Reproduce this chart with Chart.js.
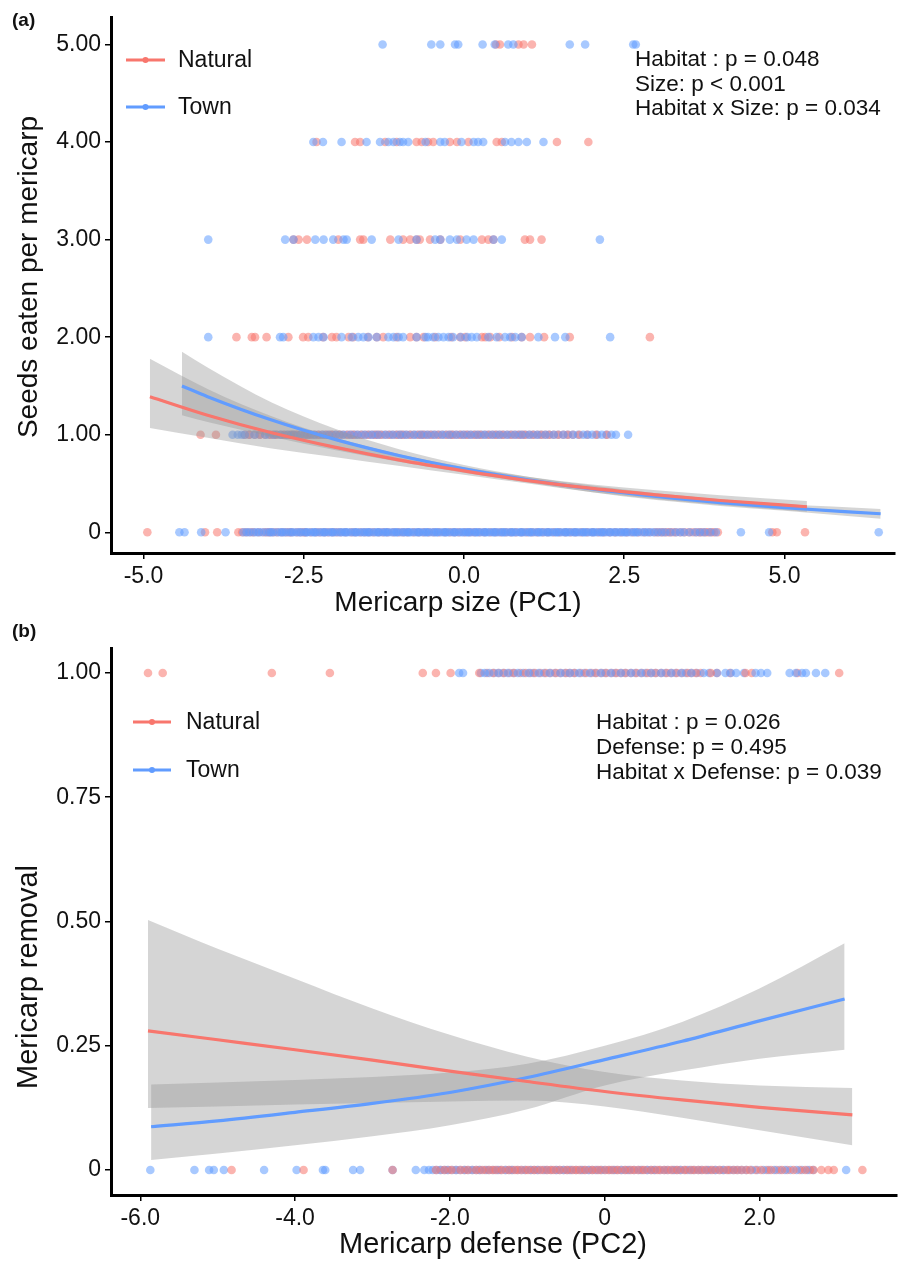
<!DOCTYPE html>
<html><head><meta charset="utf-8">
<script src="https://cdn.jsdelivr.net/npm/chart.js@4/dist/chart.umd.min.js"></script>
<style>
html,body{margin:0;padding:0;background:#fff;}
#wrap{position:relative;width:907px;height:1262px;overflow:hidden;}
.c{position:absolute;left:0;width:907px;}
</style></head><body>
<div id="wrap">
<div class="c" style="top:0;height:620px"><canvas id="ca" width="907" height="620"></canvas></div>
<div class="c" style="top:620px;height:642px"><canvas id="cb" width="907" height="642"></canvas></div>
</div>
<script>
// ---------- Panel (a): tick values and labels ----------
const sizeTicks = [-5, -2.5, 0, 2.5, 5];
const sizeTickLabels = ['-5.0', '-2.5', '0.0', '2.5', '5.0'];
const seedsTicks = [0, 1, 2, 3, 4, 5];
const seedsTickLabels = ['0', '1.00', '2.00', '3.00', '4.00', '5.00'];

// Panel (a): observed mericarp sizes (PC1) at each count of seeds eaten
const natSeeds0 = [-4.94, -4.04, -3.85, -3.52, -3.40, -3.28, -3.12, -3.03, -2.91, -2.78, -2.69, -2.55, -2.47, -2.31, -2.18, -2.05, -1.93, -1.76, -1.62, -1.48, -1.33, -1.19, -1.02, -0.88, -0.71, -0.55, -0.39, -0.22, -0.08, 0.09, 0.24, 0.41, 0.57, 0.73, 0.90, 1.06, 1.23, 1.40, 1.58, 1.74, 1.92, 2.10, 2.27, 2.45, 2.63, 2.81, 2.98, 3.08, 3.17, 3.26, 3.38, 3.51, 3.63, 3.72, 3.81, 3.90, 4.88, 5.32];
const natSeeds0b = [-3.46, -3.33, -3.20, -3.07, -2.97, -2.84, -2.73, -2.61, -2.50, -2.39, -2.25, -2.12, -1.99, -1.85, -1.70, -1.55, -1.41, -1.26, -1.10, -0.95, -0.79, -0.63, -0.47, -0.30, -0.15, 0.01, 0.16, 0.32, 0.49, 0.65, 0.81, 0.98, 1.14, 1.31, 1.49, 1.66, 1.83, 2.01, 2.18, 2.36, 2.54, 2.72, 2.89, 3.03, 3.12, 3.21, 3.31, 3.44, 3.57, 3.68, 3.77, 3.86, 3.96, 4.81];
const townSeeds0 = [-4.44, -4.36, -4.10, -3.72, -3.44, -3.35, -3.24, -3.15, -3.04, -2.98, -2.87, -2.81, -2.72, -2.66, -2.57, -2.49, -2.44, -2.35, -2.30, -2.21, -2.16, -2.07, -2.02, -1.93, -1.86, -1.81, -1.72, -1.67, -1.58, -1.51, -1.46, -1.37, -1.32, -1.23, -1.18, -1.09, -1.04, -0.95, -0.88, -0.83, -0.74, -0.69, -0.60, -0.55, -0.46, -0.41, -0.32, -0.27, -0.18, -0.13, -0.04, 0.03, 0.08, 0.17, 0.22, 0.31, 0.36, 0.45, 0.50, 0.59, 0.64, 0.73, 0.78, 0.87, 0.92, 1.01, 1.06, 1.15, 1.20, 1.29, 1.34, 1.43, 1.48, 1.57, 1.62, 1.71, 1.76, 1.85, 1.90, 1.99, 2.04, 2.13, 2.18, 2.27, 2.34, 2.41, 2.49, 2.55, 2.65, 2.71, 2.82, 2.91, 3.02, 3.14, 3.30, 3.43, 3.61, 3.75, 3.93, 4.32, 4.76, 6.47];
const townSeeds0b = [-3.39, -3.29, -3.20, -3.09, -3.01, -2.92, -2.84, -2.77, -2.69, -2.61, -2.54, -2.46, -2.39, -2.33, -2.25, -2.18, -2.11, -2.05, -1.97, -1.90, -1.84, -1.76, -1.69, -1.62, -1.55, -1.49, -1.41, -1.34, -1.27, -1.21, -1.13, -1.06, -0.99, -0.92, -0.86, -0.78, -0.71, -0.64, -0.58, -0.50, -0.43, -0.36, -0.29, -0.23, -0.15, -0.08, -0.01, 0.06, 0.12, 0.19, 0.26, 0.33, 0.40, 0.47, 0.54, 0.61, 0.68, 0.75, 0.82, 0.89, 0.96, 1.03, 1.10, 1.17, 1.24, 1.31, 1.38, 1.45, 1.52, 1.59, 1.66, 1.73, 1.80, 1.87, 1.94, 2.01, 2.08, 2.15, 2.22, 2.29, 2.37, 2.45, 2.52, 2.60, 2.68, 2.77, 2.86, 2.96, 3.08, 3.22, 3.37, 3.52, 3.68, 3.84];
const natSeeds1 = [-4.11, -3.87, -3.35, -3.18, -3.02, -2.93, -2.81, -2.70, -2.62, -2.49, -2.40, -2.27, -2.15, -2.06, -1.94, -1.81, -1.72, -1.60, -1.49, -1.38, -1.30, -1.17, -1.05, -0.96, -0.84, -0.71, -0.63, -0.52, -0.40, -0.27, -0.18, -0.06, 0.05, 0.17, 0.26, 0.39, 0.50, 0.61, 0.74, 0.86, 0.95, 1.08, 1.21, 1.33, 1.47, 1.62, 1.80, 2.06, 2.23];
const natSeeds1b = [-3.42, -3.26, -3.10, -2.97, -2.86, -2.75, -2.66, -2.55, -2.44, -2.33, -2.21, -2.10, -2.00, -1.88, -1.76, -1.66, -1.54, -1.43, -1.34, -1.23, -1.11, -1.00, -0.90, -0.78, -0.67, -0.57, -0.46, -0.34, -0.22, -0.12, 0.00, 0.11, 0.22, 0.33, 0.45, 0.56, 0.68, 0.80, 0.91, 1.02, 1.15, 1.27, 1.40, 1.55, 1.70, 1.92];
const townSeeds1 = [-3.61, -3.53, -3.42, -3.27, -3.10, -2.97, -2.86, -2.75, -2.66, -2.55, -2.44, -2.33, -2.21, -2.11, -2.00, -1.89, -1.77, -1.66, -1.55, -1.44, -1.34, -1.22, -1.11, -1.00, -0.90, -0.78, -0.67, -0.57, -0.46, -0.34, -0.23, -0.12, -0.01, 0.10, 0.21, 0.32, 0.44, 0.55, 0.67, 0.79, 0.90, 1.02, 1.14, 1.27, 1.40, 1.55, 1.70, 1.86, 2.00, 2.15, 2.30, 2.56];
const townSeeds1b = [-3.47, -3.35, -3.19, -3.04, -2.92, -2.80, -2.70, -2.60, -2.49, -2.38, -2.27, -2.16, -2.05, -1.94, -1.83, -1.71, -1.60, -1.49, -1.39, -1.28, -1.16, -1.05, -0.95, -0.84, -0.73, -0.62, -0.51, -0.40, -0.29, -0.18, -0.06, 0.05, 0.16, 0.27, 0.38, 0.50, 0.61, 0.73, 0.85, 0.96, 1.08, 1.20, 1.33, 1.47, 1.62, 1.78, 1.93, 2.08, 2.22, 2.37];
const natSeeds2 = [-3.55, -3.31, -3.26, -3.08, -2.74, -2.51, -2.43, -2.20, -2.06, -1.99, -1.80, -1.73, -1.50, -1.36, -1.26, -1.05, -0.84, -0.74, -0.63, -0.45, -0.20, -0.06, 0.02, 0.28, 0.33, 0.41, 0.55, 0.75, 0.90, 1.03, 1.25, 1.65, 2.90];
const townSeeds2 = [-3.99, -2.87, -2.82, -2.35, -2.27, -2.19, -1.91, -1.75, -1.65, -1.57, -1.49, -1.36, -1.18, -1.10, -1.02, -0.95, -0.74, -0.60, -0.56, -0.48, -0.40, -0.32, -0.24, -0.17, -0.05, 0.05, 0.12, 0.20, 0.38, 0.51, 0.64, 0.72, 0.80, 0.90, 1.16, 1.42, 1.58, 2.28];
const natSeeds3 = [-2.66, -2.58, -2.45, -1.96, -1.62, -1.57, -1.15, -0.95, -0.84, -0.74, -0.69, -0.53, -0.37, -0.06, 0.28, 0.38, 0.46, 0.95, 1.03, 1.21];
const townSeeds3 = [-3.99, -2.79, -2.66, -2.32, -2.19, -2.04, -1.88, -1.83, -1.44, -1.02, -0.74, -0.45, -0.37, -0.22, -0.11, 0.04, 0.15, 0.46, 0.59, 2.12];
const natSeeds4 = [-2.30, -1.70, -1.62, -1.23, -1.05, -0.74, -0.66, -0.56, -0.48, -0.22, -0.11, 0.07, 0.51, 0.59, 1.45, 1.94];
const townSeeds4 = [-2.35, -2.20, -1.91, -1.52, -1.31, -1.18, -1.10, -1.00, -0.95, -0.87, -0.60, -0.37, -0.30, -0.04, 0.15, 0.22, 0.30, 0.64, 0.74, 0.85, 0.98, 1.24];
const natSeeds5 = [0.50, 0.56, 0.85, 0.93, 1.06];
const townSeeds5 = [-1.27, -0.51, -0.37, -0.14, -0.09, 0.29, 0.48, 0.69, 0.77, 1.65, 1.89, 2.64, 2.68];

// Panel (a): fitted curves and confidence bands
const fitSizeNatX = [-4.9, -4, -3, -2, -1, 0, 1, 2, 3, 4, 5.35];
const fitSizeNat = [1.39, 1.20, 1.02, 0.87, 0.74, 0.63, 0.53, 0.45, 0.384, 0.326, 0.262];
const fitSizeNatLo = [1.07, 0.97, 0.86, 0.77, 0.68, 0.59, 0.50, 0.41, 0.34, 0.28, 0.21];
const fitSizeNatHi = [1.78, 1.47, 1.19, 0.97, 0.80, 0.67, 0.57, 0.49, 0.43, 0.38, 0.32];
const fitSizeTownX = [-4.4, -4, -3, -2, -1, 0, 1, 2, 3, 4, 5, 6.5];
const fitSizeTown = [1.50, 1.39, 1.15, 0.95, 0.785, 0.65, 0.538, 0.445, 0.368, 0.305, 0.252, 0.19];
const fitSizeTownLo = [1.20, 1.13, 0.98, 0.84, 0.72, 0.61, 0.51, 0.41, 0.33, 0.27, 0.22, 0.14];
const fitSizeTownHi = [1.85, 1.69, 1.33, 1.06, 0.85, 0.69, 0.57, 0.48, 0.40, 0.34, 0.29, 0.24];

// ---------- Panel (b) ----------
const defTicks = [-6, -4, -2, 0, 2];
const defTickLabels = ['-6.0', '-4.0', '-2.0', '0', '2.0'];
const remTicks = [0, 0.25, 0.5, 0.75, 1];
const remTickLabels = ['0', '0.25', '0.50', '0.75', '1.00'];

const natRem0 = [-4.82, -3.89, -2.74, -2.18, -2.07, -1.98, -1.86, -1.77, -1.66, -1.58, -1.49, -1.41, -1.33, -1.24, -1.16, -1.08, -0.99, -0.91, -0.83, -0.74, -0.66, -0.58, -0.49, -0.41, -0.33, -0.25, -0.16, -0.08, 0.01, 0.09, 0.17, 0.26, 0.34, 0.43, 0.51, 0.60, 0.68, 0.77, 0.86, 0.94, 1.03, 1.12, 1.21, 1.30, 1.39, 1.48, 1.58, 1.67, 1.77, 1.88, 2.02, 2.15, 2.29, 2.44, 2.59, 2.70, 2.89, 2.96, 3.33];
const natRem0b = [-2.12, -2.02, -1.92, -1.81, -1.71, -1.62, -1.53, -1.45, -1.37, -1.28, -1.20, -1.12, -1.03, -0.95, -0.87, -0.78, -0.70, -0.62, -0.53, -0.45, -0.37, -0.29, -0.20, -0.12, -0.04, 0.05, 0.13, 0.21, 0.30, 0.38, 0.47, 0.55, 0.64, 0.72, 0.81, 0.90, 0.98, 1.07, 1.16, 1.25, 1.34, 1.43, 1.53, 1.62, 1.72, 1.83, 1.95, 2.09, 2.22, 2.36, 2.52, 2.65, 2.80];
const townRem0 = [-5.87, -5.30, -5.11, -5.05, -4.92, -4.40, -3.98, -3.64, -3.61, -3.25, -3.16, -2.74, -2.44, -2.33, -2.22, -2.12, -2.03, -1.92, -1.81, -1.71, -1.61, -1.50, -1.39, -1.28, -1.19, -1.07, -0.96, -0.86, -0.75, -0.63, -0.53, -0.43, -0.31, -0.21, -0.10, 0.00, 0.11, 0.22, 0.32, 0.44, 0.55, 0.65, 0.77, 0.88, 0.98, 1.10, 1.21, 1.32, 1.43, 1.54, 1.66, 1.77, 1.90, 2.05, 2.19, 2.33, 2.48, 2.62, 3.12];
const townRem0b = [-2.27, -2.17, -2.07, -1.97, -1.87, -1.76, -1.66, -1.55, -1.44, -1.34, -1.23, -1.13, -1.02, -0.91, -0.80, -0.69, -0.58, -0.48, -0.37, -0.26, -0.16, -0.05, 0.06, 0.16, 0.27, 0.38, 0.49, 0.60, 0.71, 0.82, 0.93, 1.04, 1.15, 1.26, 1.37, 1.49, 1.60, 1.71, 1.83, 1.97, 2.12, 2.26, 2.40, 2.55, 2.69];
const natRem1 = [-5.90, -5.71, -4.30, -3.55, -2.35, -2.18, -1.99, -1.62, -1.44, -1.30, -1.17, -1.02, -0.90, -0.76, -0.63, -0.50, -0.39, -0.24, -0.11, 0.02, 0.15, 0.27, 0.41, 0.55, 0.66, 0.80, 0.93, 1.07, 1.18, 1.37, 1.82, 2.49, 3.03];
const natRem1b = [-1.52, -1.37, -1.23, -1.09, -0.96, -0.83, -0.70, -0.57, -0.45, -0.31, -0.17, -0.04, 0.09, 0.21, 0.34, 0.48, 0.60, 0.73, 0.86, 1.00, 1.12, 1.24, 1.45, 1.62, 1.90];
const townRem1 = [-1.88, -1.83, -1.55, -1.49, -1.37, -1.25, -1.12, -0.98, -0.85, -0.71, -0.57, -0.45, -0.33, -0.19, -0.05, 0.08, 0.21, 0.34, 0.47, 0.60, 0.73, 0.86, 0.99, 1.12, 1.28, 1.56, 1.70, 1.95, 2.39, 2.47, 2.55, 2.60, 2.73, 2.85];
const townRem1b = [-1.60, -1.43, -1.31, -1.18, -1.05, -0.92, -0.78, -0.64, -0.51, -0.39, -0.26, -0.12, 0.01, 0.14, 0.27, 0.40, 0.53, 0.66, 0.79, 0.92, 1.05, 1.19, 1.35, 1.45, 1.63, 1.80, 2.02, 2.10];

const fitDefNatX = [-5.9, -5, -4, -3, -2, -1, 0, 1, 2, 3.2];
const fitDefNat = [0.280, 0.262, 0.242, 0.221, 0.199, 0.178, 0.158, 0.141, 0.126, 0.111];
const fitDefNatLo = [0.125, 0.128, 0.132, 0.135, 0.138, 0.140, 0.128, 0.105, 0.080, 0.050];
const fitDefNatHi = [0.503, 0.445, 0.385, 0.325, 0.272, 0.228, 0.197, 0.180, 0.170, 0.165];
const fitDefTownX = [-5.86, -5, -4, -3, -2, -1, 0, 1, 2, 3.1];
const fitDefTown = [0.087, 0.099, 0.116, 0.134, 0.156, 0.186, 0.222, 0.259, 0.300, 0.344];
const fitDefTownLo = [0.020, 0.033, 0.050, 0.068, 0.090, 0.122, 0.170, 0.200, 0.224, 0.242];
const fitDefTownHi = [0.172, 0.176, 0.181, 0.187, 0.196, 0.214, 0.250, 0.298, 0.365, 0.456];

// ---------- styling ----------
const FONT = '"Liberation Sans", Arial, Helvetica, sans-serif';
const RED = '#F8766D', BLUE = '#619CFF';
const RED_PT = 'rgba(248,118,109,0.55)', BLUE_PT = 'rgba(97,156,255,0.55)';
const BAND = 'rgba(150,150,150,0.4)';

const pts = (xs, y) => xs.map(x => ({x: x, y: y}));
const xy = (xs, ys) => xs.map((x, i) => ({x: x, y: ys[i]}));

function lineDs(xs, ys, color) {
  return {type: 'line', data: xy(xs, ys), borderColor: color, borderWidth: 3.2, pointRadius: 0,
          tension: 0.4, cubicInterpolationMode: 'monotone', fill: false};
}
function bandDs(xs, ys, fill) {
  return {type: 'line', data: xy(xs, ys), borderWidth: 0, borderColor: 'rgba(0,0,0,0)', pointRadius: 0,
          tension: 0.4, cubicInterpolationMode: 'monotone', fill: fill, backgroundColor: BAND};
}
function ptDs(xs, y, color) {
  return {type: 'scatter', data: pts(xs, y), backgroundColor: color, borderWidth: 0, pointRadius: 4.3, pointHoverRadius: 4.3};
}

function textPlugin(s) {
  return {
    id: 'txt',
    afterDraw(chart) {
      const ctx = chart.ctx;
      ctx.save();
      ctx.fillStyle = '#111';
      ctx.font = 'bold 19px ' + FONT;
      ctx.textAlign = 'left'; ctx.textBaseline = 'middle';
      ctx.fillText(s.panel, 12, s.panelY);
      ctx.font = s.titleSize + 'px ' + FONT;
      ctx.textAlign = 'center'; ctx.textBaseline = 'middle';
      ctx.fillText(s.xTitle, s.xTitleX, s.xTitleY);
      ctx.save();
      ctx.translate(s.yTitleX, s.yTitleY);
      ctx.rotate(-Math.PI / 2);
      ctx.fillText(s.yTitle, 0, 0);
      ctx.restore();
      ctx.font = '23px ' + FONT;
      ctx.textAlign = 'left';
      s.legend.forEach(e => {
        ctx.strokeStyle = e.color; ctx.lineWidth = 3;
        ctx.beginPath(); ctx.moveTo(s.legX0, e.y); ctx.lineTo(s.legX1, e.y); ctx.stroke();
        ctx.fillStyle = e.color;
        ctx.beginPath(); ctx.arc((s.legX0 + s.legX1) / 2, e.y, 3, 0, Math.PI * 2); ctx.fill();
        ctx.fillStyle = '#111';
        ctx.fillText(e.label, s.legTextX, e.y + 1);
      });
      ctx.font = '22.5px ' + FONT;
      s.stats.forEach((t, i) => ctx.fillText(t, s.statX, s.statY + i * s.statDy));
      ctx.restore();
    }
  };
}

function axes(xMin, xMax, xTicks, xLabels, yMin, yMax, yTicks, yLabels, xHeight) {
  const common = {
    border: {display: true, color: '#000', width: 3},
    grid: {display: true, drawOnChartArea: false, drawTicks: true, tickLength: 6, color: '#000', lineWidth: 1.5},
  };
  return {
    x: Object.assign({}, common, {
      type: 'linear', min: xMin, max: xMax,
      afterBuildTicks: sc => { sc.ticks = xTicks.map(v => ({value: v})); },
      afterFit: sc => { sc.height = xHeight; },
      ticks: {font: {family: FONT, size: 23}, color: '#111', padding: 4, maxRotation: 0, autoSkip: false,
              callback: (v) => { const i = xTicks.indexOf(v); return i >= 0 ? xLabels[i] : ''; }}
    }),
    y: Object.assign({}, common, {
      type: 'linear', min: yMin, max: yMax,
      afterBuildTicks: sc => { sc.ticks = yTicks.map(v => ({value: v})); },
      afterFit: sc => { sc.width = 111; },
      ticks: {font: {family: FONT, size: 23}, color: '#111', padding: 4, autoSkip: false,
              callback: (v) => { const i = yTicks.indexOf(v); return i >= 0 ? yLabels[i] : ''; }}
    })
  };
}

const baseOpts = {responsive: false, animation: false, events: [],
  plugins: {legend: {display: false}, tooltip: {enabled: false}}};

// ---------- Chart (a) ----------
new Chart(document.getElementById('ca'), {
  type: 'scatter',
  data: {datasets: [
    lineDs(fitSizeNatX, fitSizeNat, RED),
    lineDs(fitSizeTownX, fitSizeTown, BLUE),
    bandDs(fitSizeNatX, fitSizeNatHi, '+1'),
    bandDs(fitSizeNatX, fitSizeNatLo, false),
    bandDs(fitSizeTownX, fitSizeTownHi, '+1'),
    bandDs(fitSizeTownX, fitSizeTownLo, false),
    ptDs(townSeeds0, 0, BLUE_PT), ptDs(townSeeds0b, 0, BLUE_PT), ptDs(natSeeds0, 0, RED_PT), ptDs(natSeeds0b, 0, RED_PT),
    ptDs(townSeeds1, 1, BLUE_PT), ptDs(natSeeds1, 1, RED_PT), ptDs(townSeeds1b, 1, BLUE_PT), ptDs(natSeeds1b, 1, RED_PT),
    ptDs(townSeeds2, 2, BLUE_PT), ptDs(natSeeds2, 2, RED_PT),
    ptDs(townSeeds3, 3, BLUE_PT), ptDs(natSeeds3, 3, RED_PT),
    ptDs(townSeeds4, 4, BLUE_PT), ptDs(natSeeds4, 4, RED_PT),
    ptDs(townSeeds5, 5, BLUE_PT), ptDs(natSeeds5, 5, RED_PT)
  ]},
  options: Object.assign({}, baseOpts, {
    layout: {padding: {left: 0, right: 12, top: 10, bottom: 0}},
    scales: axes(-5.507, 6.724, sizeTicks, sizeTickLabels, -0.212, 5.273, seedsTicks, seedsTickLabels, 67)
  }),
  plugins: [textPlugin({
    panel: '(a)', panelY: 21,
    titleSize: 28,
    xTitle: 'Mericarp size (PC1)', xTitleX: 458, xTitleY: 603,
    yTitle: 'Seeds eaten per mericarp', yTitleX: 29, yTitleY: 277,
    legX0: 126, legX1: 165, legTextX: 178,
    legend: [{label: 'Natural', color: RED, y: 60}, {label: 'Town', color: BLUE, y: 107}],
    statX: 635, statY: 60, statDy: 24.5,
    stats: ['Habitat : p = 0.048', 'Size: p < 0.001', 'Habitat x Size: p = 0.034']
  })]
});

// ---------- Chart (b) ----------
new Chart(document.getElementById('cb'), {
  type: 'scatter',
  data: {datasets: [
    lineDs(fitDefNatX, fitDefNat, RED),
    lineDs(fitDefTownX, fitDefTown, BLUE),
    bandDs(fitDefNatX, fitDefNatHi, '+1'),
    bandDs(fitDefNatX, fitDefNatLo, false),
    bandDs(fitDefTownX, fitDefTownHi, '+1'),
    bandDs(fitDefTownX, fitDefTownLo, false),
    ptDs(natRem0, 0, RED_PT), ptDs(townRem0, 0, BLUE_PT), ptDs(natRem0b, 0, RED_PT), ptDs(townRem0b, 0, BLUE_PT),
    ptDs(townRem1, 1, BLUE_PT), ptDs(natRem1, 1, RED_PT), ptDs(townRem1b, 1, BLUE_PT), ptDs(natRem1b, 1, RED_PT)
  ]},
  options: Object.assign({}, baseOpts, {
    layout: {padding: {left: 0, right: 10, top: 28, bottom: 0}},
    scales: axes(-6.378, 3.777, defTicks, defTickLabels, -0.0503, 1.0503, remTicks, remTickLabels, 67)
  }),
  plugins: [textPlugin({
    panel: '(b)', panelY: 12,
    titleSize: 29,
    xTitle: 'Mericarp defense (PC2)', xTitleX: 493, xTitleY: 625,
    yTitle: 'Mericarp removal', yTitleX: 29, yTitleY: 357,
    legX0: 133, legX1: 171, legTextX: 186,
    legend: [{label: 'Natural', color: RED, y: 102}, {label: 'Town', color: BLUE, y: 150}],
    statX: 596, statY: 103, statDy: 25,
    stats: ['Habitat : p = 0.026', 'Defense: p = 0.495', 'Habitat x Defense: p = 0.039']
  })]
});
</script>
</body></html>
